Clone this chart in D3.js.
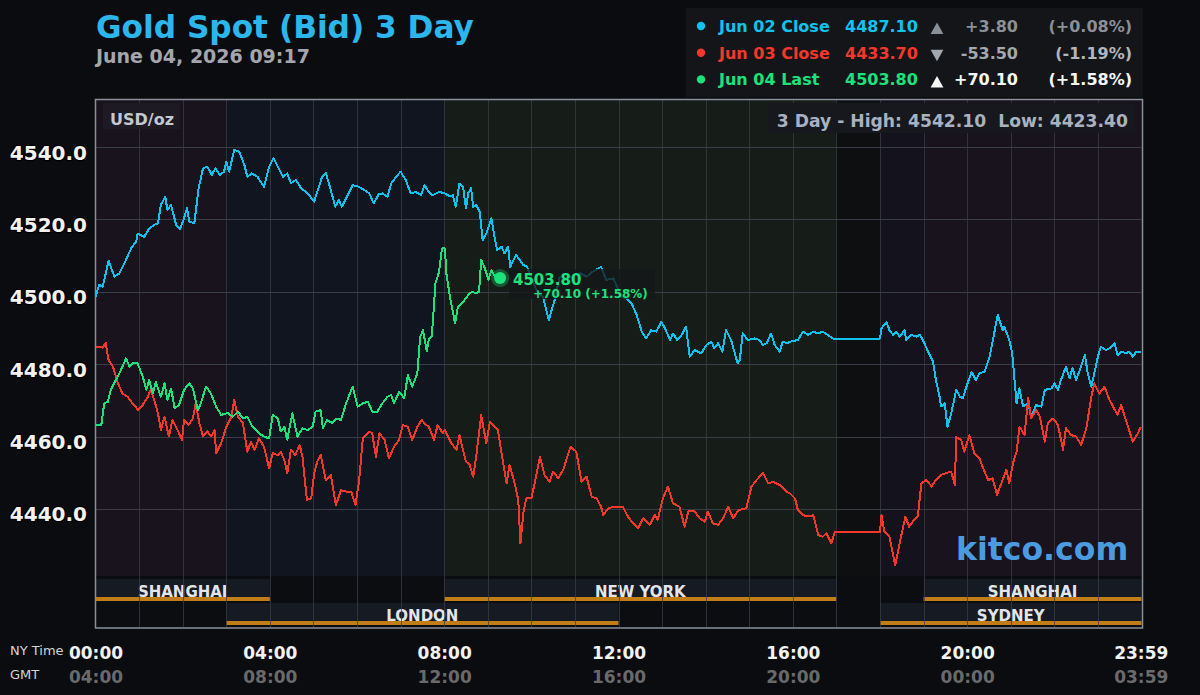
<!DOCTYPE html>
<html>
<head>
<meta charset="utf-8">
<script src="https://cdn.jsdelivr.net/npm/d3@7"></script>
<style>
  html, body { margin: 0; padding: 0; background: #0b0c0f; }
  svg { display: block; font-family: "DejaVu Sans", sans-serif; }
</style>
</head>
<body>
<svg id="chart"></svg>
<script>
const WIDTH = 1200;
const HEIGHT = 695;

// minutes after NY midnight, bid price
const jun02 = [[0,4498.6],[5,4501.9],[10,4501.4],[18,4508.6],[26,4504.2],[33,4505.1],[44,4509.7],[49,4512.0],[56,4513.9],[58,4516.1],[67,4515.2],[74,4517.5],[81,4518.5],[86,4518.9],[90,4524.0],[96,4526.3],[99,4522.6],[104,4524.0],[111,4518.5],[116,4517.3],[121,4519.8],[126,4523.1],[129,4519.4],[136,4518.9],[142,4528.6],[148,4534.1],[154,4534.6],[160,4532.3],[165,4534.1],[171,4532.3],[177,4533.2],[180,4536.0],[184,4533.2],[191,4539.2],[198,4538.7],[205,4535.0],[209,4531.8],[215,4532.7],[223,4531.8],[232,4529.0],[239,4534.6],[245,4536.9],[251,4534.6],[258,4531.8],[264,4532.7],[269,4530.0],[276,4530.9],[283,4528.6],[292,4527.2],[301,4524.9],[306,4528.1],[312,4531.8],[317,4532.9],[324,4528.1],[330,4523.5],[335,4525.4],[339,4523.5],[345,4525.8],[354,4529.5],[363,4529.0],[370,4528.1],[377,4527.2],[383,4524.4],[390,4527.0],[395,4527.2],[402,4526.3],[407,4529.9],[414,4531.8],[420,4533.2],[427,4530.9],[434,4527.2],[441,4527.6],[448,4526.7],[453,4529.5],[457,4528.1],[464,4526.7],[473,4527.6],[481,4527.2],[488,4526.3],[492,4526.7],[496,4523.5],[501,4529.9],[506,4529.0],[510,4523.0],[513,4527.2],[517,4528.6],[520,4523.5],[524,4524.0],[529,4522.1],[533,4514.3],[538,4516.1],[545,4520.3],[550,4514.3],[553,4511.5],[559,4512.5],[563,4510.6],[568,4512.5],[571,4506.9],[579,4510.2],[584,4508.8],[589,4507.4],[594,4506.9],[607,4500.5],[616,4498.6],[624,4492.2],[632,4497.7],[639,4504.2],[648,4503.3],[658,4504.5],[667,4505.1],[676,4504.2],[685,4505.6],[696,4506.9],[703,4503.3],[713,4503.7],[724,4498.6],[731,4498.2],[738,4496.8],[745,4493.6],[752,4489.0],[758,4487.1],[765,4489.4],[772,4489.0],[779,4491.7],[784,4489.9],[791,4486.7],[795,4488.5],[801,4486.7],[807,4488.1],[813,4490.4],[818,4482.1],[825,4483.9],[834,4483.0],[841,4485.3],[848,4486.2],[852,4484.4],[857,4485.8],[863,4483.5],[868,4489.4],[875,4486.7],[884,4480.2],[887,4481.2],[891,4488.5],[898,4486.7],[907,4487.1],[914,4486.7],[919,4485.3],[924,4485.8],[930,4488.5],[935,4485.3],[942,4483.5],[946,4486.2],[953,4485.8],[956,4486.2],[967,4486.7],[974,4489.0],[981,4488.1],[988,4489.0],[995,4488.5],[1001,4489.0],[1008,4488.1],[1015,4487.1],[1080,4487.1],[1082,4489.9],[1089,4491.7],[1093,4489.4],[1098,4488.1],[1102,4489.0],[1107,4487.6],[1114,4489.4],[1116,4486.7],[1123,4488.1],[1130,4487.6],[1135,4488.1],[1139,4486.7],[1146,4483.5],[1153,4480.7],[1157,4475.6],[1162,4471.0],[1164,4468.3],[1169,4469.2],[1173,4462.7],[1178,4466.4],[1185,4472.9],[1190,4471.0],[1194,4470.6],[1199,4473.8],[1206,4477.9],[1212,4475.6],[1217,4477.5],[1224,4477.9],[1231,4482.1],[1238,4489.4],[1242,4493.6],[1249,4489.4],[1251,4490.4],[1258,4486.7],[1262,4483.0],[1268,4469.2],[1272,4473.3],[1277,4468.3],[1284,4469.2],[1288,4465.5],[1295,4468.7],[1302,4468.3],[1307,4472.9],[1316,4473.3],[1320,4474.7],[1325,4472.9],[1329,4475.6],[1336,4479.3],[1341,4476.1],[1345,4478.9],[1350,4475.6],[1355,4478.4],[1362,4482.5],[1366,4477.5],[1371,4473.8],[1375,4477.5],[1380,4482.1],[1384,4484.8],[1391,4483.9],[1396,4484.4],[1403,4485.8],[1407,4482.5],[1412,4483.5],[1419,4483.0],[1423,4483.5],[1428,4482.1],[1433,4483.5],[1439,4483.5]];

const jun03 = [[0,4484.8],[10,4484.6],[14,4485.9],[18,4481.2],[24,4479.3],[31,4474.7],[37,4471.9],[44,4471.0],[51,4469.2],[59,4467.3],[65,4468.7],[72,4471.0],[76,4472.9],[81,4470.1],[86,4466.4],[90,4461.8],[95,4465.5],[101,4460.0],[106,4464.6],[113,4461.8],[119,4459.1],[122,4464.6],[128,4463.2],[134,4465.0],[138,4469.2],[143,4463.7],[148,4460.0],[154,4461.4],[159,4460.0],[164,4461.8],[166,4455.4],[173,4458.1],[180,4462.7],[187,4465.5],[191,4470.1],[196,4465.5],[203,4463.7],[209,4455.8],[214,4458.6],[219,4456.3],[225,4459.5],[232,4457.2],[239,4451.2],[244,4455.4],[251,4454.9],[255,4455.8],[260,4453.5],[264,4449.9],[269,4456.3],[275,4454.9],[281,4457.7],[285,4454.4],[291,4442.5],[297,4442.9],[301,4449.9],[306,4453.5],[310,4454.9],[317,4448.0],[324,4449.4],[331,4441.1],[338,4445.2],[345,4444.8],[352,4444.8],[358,4441.1],[363,4448.0],[368,4459.5],[377,4461.4],[381,4460.9],[386,4454.4],[391,4460.9],[398,4459.1],[404,4454.0],[411,4457.2],[418,4459.1],[423,4463.2],[430,4462.7],[436,4459.1],[443,4462.7],[449,4464.6],[455,4463.2],[459,4462.7],[466,4459.1],[471,4463.2],[478,4460.9],[481,4461.8],[490,4458.1],[497,4456.3],[501,4460.4],[506,4456.3],[510,4453.1],[515,4452.2],[520,4448.9],[524,4454.4],[531,4465.9],[538,4458.1],[543,4464.1],[550,4462.7],[554,4461.8],[559,4455.4],[566,4447.1],[570,4452.2],[577,4447.1],[582,4442.5],[585,4430.5],[589,4438.8],[593,4442.9],[600,4442.9],[605,4447.5],[612,4454.4],[618,4449.4],[625,4447.5],[630,4450.3],[637,4448.5],[644,4450.8],[648,4453.5],[654,4457.2],[662,4455.8],[669,4447.5],[676,4448.9],[683,4443.4],[690,4442.9],[696,4440.6],[699,4438.3],[706,4440.2],[713,4440.6],[726,4440.6],[733,4437.9],[740,4436.0],[747,4434.6],[754,4437.4],[763,4435.6],[770,4438.3],[774,4437.0],[781,4442.9],[788,4446.2],[795,4441.6],[804,4440.6],[811,4435.1],[816,4439.3],[825,4439.3],[832,4437.4],[839,4436.5],[843,4439.3],[850,4436.0],[857,4435.6],[864,4437.4],[871,4440.6],[878,4437.4],[885,4439.7],[896,4440.2],[903,4446.2],[910,4448.0],[919,4449.9],[926,4447.1],[933,4447.5],[942,4446.6],[951,4444.8],[956,4444.3],[963,4442.9],[967,4439.7],[974,4438.3],[981,4437.9],[988,4438.3],[995,4432.8],[1001,4432.3],[1006,4433.3],[1013,4430.5],[1018,4433.7],[1080,4433.7],[1082,4438.3],[1086,4433.7],[1093,4432.3],[1101,4424.5],[1107,4430.5],[1115,4437.9],[1120,4435.1],[1125,4436.5],[1132,4437.9],[1137,4447.1],[1144,4448.0],[1151,4446.2],[1157,4448.0],[1164,4449.4],[1171,4449.9],[1178,4450.3],[1183,4446.6],[1185,4459.9],[1192,4459.0],[1196,4455.8],[1203,4460.4],[1210,4455.4],[1217,4454.0],[1222,4451.2],[1229,4448.0],[1235,4448.5],[1241,4443.9],[1247,4447.1],[1254,4450.8],[1258,4447.1],[1263,4452.6],[1268,4455.8],[1272,4462.7],[1279,4460.4],[1284,4470.6],[1288,4465.0],[1295,4467.3],[1300,4465.5],[1307,4458.6],[1311,4463.7],[1318,4465.0],[1325,4463.2],[1332,4456.3],[1336,4462.3],[1343,4460.4],[1350,4460.0],[1357,4457.7],[1364,4462.3],[1371,4471.0],[1375,4474.7],[1382,4471.9],[1389,4473.8],[1396,4470.1],[1407,4466.0],[1412,4468.7],[1417,4465.5],[1428,4458.6],[1435,4460.9],[1439,4462.7]];

const jun04 = [[0,4463.2],[8,4463.2],[12,4469.2],[17,4469.6],[21,4472.9],[28,4475.6],[35,4478.4],[42,4481.6],[47,4479.3],[51,4480.2],[58,4480.2],[65,4476.6],[70,4472.9],[74,4475.6],[79,4471.9],[83,4475.2],[90,4471.0],[95,4474.7],[99,4470.1],[104,4473.3],[109,4467.8],[115,4468.7],[122,4472.9],[129,4474.7],[134,4473.3],[141,4467.3],[145,4469.2],[152,4473.8],[159,4471.9],[166,4468.3],[173,4466.0],[182,4466.5],[189,4465.5],[196,4466.9],[203,4465.0],[209,4465.5],[216,4462.7],[225,4460.9],[232,4460.0],[239,4459.5],[244,4466.0],[251,4465.0],[255,4461.4],[260,4462.7],[264,4459.1],[271,4466.4],[278,4460.0],[285,4462.3],[292,4461.8],[299,4462.7],[303,4466.9],[310,4467.3],[313,4462.3],[319,4464.6],[326,4463.7],[331,4465.0],[338,4464.6],[345,4469.2],[354,4473.8],[361,4468.3],[368,4469.2],[375,4469.6],[381,4466.9],[388,4466.9],[395,4469.2],[402,4471.0],[407,4471.5],[411,4469.2],[418,4472.4],[425,4470.6],[430,4477.0],[436,4473.8],[443,4477.4],[447,4487.6],[451,4489.4],[456,4483.5],[459,4487.1],[463,4487.6],[468,4502.3],[473,4505.6],[477,4512.0],[481,4512.0],[483,4505.1],[488,4498.6],[495,4491.3],[499,4495.9],[504,4496.8],[508,4497.7],[513,4499.1],[518,4500.0],[524,4499.6],[528,4500.0],[531,4508.8],[536,4506.5],[541,4503.3],[545,4506.0],[550,4504.2],[557,4503.8]];

const priceTicks = [4440, 4460, 4480, 4500, 4520, 4540];
const timeTicks = [0, 240, 480, 720, 960, 1200, 1439];
const nyLabels = ["00:00", "04:00", "08:00", "12:00", "16:00", "20:00", "23:59"];
const gmtLabels = ["04:00", "08:00", "12:00", "16:00", "20:00", "00:00", "03:59"];

const bands = [[0, 180, "asia"], [180, 480, "london"], [480, 1020, "ny"], [1020, 1080, "closed"], [1080, 1140, "sydney"], [1140, 1440, "asia"]];
const sessions = [
  { name: "SHANGHAI", row: 0, start: 0, end: 240 },
  { name: "NEW YORK", row: 0, start: 480, end: 1020 },
  { name: "SHANGHAI", row: 0, start: 1140, end: 1440 },
  { name: "LONDON", row: 1, start: 180, end: 720 },
  { name: "SYDNEY", row: 1, start: 1080, end: 1440 }
];

const legendRows = [
  { label: "Jun 02 Close", value: "4487.10", up: true, chg: "+3.80", pct: "(+0.08%)" },
  { label: "Jun 03 Close", value: "4433.70", up: false, chg: "-53.50", pct: "(-1.19%)" },
  { label: "Jun 04 Last", value: "4503.80", up: true, chg: "+70.10", pct: "(+1.58%)" }
];

const lastPrice = 4503.80;
const lastChange = "+70.10 (+1.58%)";
const dayHigh = 4542.10;
const dayLow = 4423.40;

// styles
const lineColors = ["#10c3ee", "#f2382b", "#1ce27c"];
const bandColors = { asia: "#19131e", london: "#10151f", ny: "#161c17", closed: "#0e0f10", sydney: "#14131d" };
const changeColors = [["#8b8f97", "#8b8f97"], ["#a3a7ae", "#b3b6bd"], ["#f6f6f6", "#f6f6f6"]];

const L = 95.5, R = 1141.5, T = 100, B = 576;

const x = d3.scaleLinear().domain([0, 1440]).range([L, R]);
const y = d3.scaleLinear().domain([4421.2, 4553.0]).range([B + 1, T]);

const svg = d3.select("#chart").attr("width", WIDTH).attr("height", HEIGHT);
svg.append("rect").attr("width", WIDTH).attr("height", HEIGHT).attr("fill", "#0b0c0f");

// title
svg.append("text").attr("x", 96).attr("y", 38)
  .attr("font-size", 31.2).attr("font-weight", "bold").attr("fill", "#2bb6ec")
  .text("Gold Spot (Bid) 3 Day");
svg.append("text").attr("x", 96).attr("y", 63)
  .attr("font-size", 19).attr("font-weight", "bold").attr("fill", "#a5a6ad")
  .text("June 04, 2026 09:17");

// legend
const lg = svg.append("g");
lg.append("rect").attr("x", 686).attr("y", 8).attr("width", 457).attr("height", 89).attr("fill", "#141518");
legendRows.forEach((r, i) => {
  const by = 32 + i * 26.7;
  lg.append("circle").attr("cx", 701).attr("cy", by - 6).attr("r", 4.2).attr("fill", lineColors[i]);
  lg.append("text").attr("x", 719).attr("y", by).attr("font-size", 16).attr("font-weight", "bold")
    .attr("fill", lineColors[i]).text(r.label);
  lg.append("text").attr("x", 845).attr("y", by).attr("font-size", 16).attr("font-weight", "bold")
    .attr("fill", lineColors[i]).text(r.value);
  const tri = r.up
    ? `M930.6,${by + 2}L943.4,${by + 2}L937,${by - 9.5}Z`
    : `M930.6,${by - 9}L943.4,${by - 9}L937,${by + 2.5}Z`;
  lg.append("path").attr("d", tri).attr("fill", changeColors[i][0]);
  lg.append("text").attr("x", 1018).attr("y", by).attr("text-anchor", "end").attr("font-size", 16)
    .attr("font-weight", "bold").attr("fill", changeColors[i][0]).text(r.chg);
  lg.append("text").attr("x", 1132).attr("y", by).attr("text-anchor", "end").attr("font-size", 16)
    .attr("font-weight", "bold").attr("fill", changeColors[i][1]).text(r.pct);
});

// session backgrounds in price area
svg.append("g").selectAll("rect").data(bands).enter().append("rect")
  .attr("x", d => x(d[0])).attr("width", d => x(d[1]) - x(d[0]))
  .attr("y", T).attr("height", B - T)
  .attr("fill", d => bandColors[d[2]]);

// session rows
const rowTop = [579, 603];
svg.append("rect").attr("x", L).attr("y", 577).attr("width", R - L).attr("height", 51).attr("fill", "#0c0d10");
const sg = svg.append("g");
sg.selectAll("rect.bar").data(sessions).enter().append("rect")
  .attr("x", d => x(d.start)).attr("width", d => x(d.end) - x(d.start))
  .attr("y", d => rowTop[d.row]).attr("height", 22).attr("fill", "#161a22");

// grid
const grid = svg.append("g").attr("stroke", "#3a3d47").attr("stroke-width", 1);
grid.selectAll("line.h").data(priceTicks).enter().append("line")
  .attr("x1", L).attr("x2", R).attr("y1", d => Math.round(y(d)) + 0.5).attr("y2", d => Math.round(y(d)) + 0.5);
grid.selectAll("line.v").data(d3.range(1, 24)).enter().append("line")
  .attr("x1", d => Math.round(x(d * 60)) + 0.5).attr("x2", d => Math.round(x(d * 60)) + 0.5)
  .attr("y1", T).attr("y2", 627).attr("stroke-opacity", 0.75);

sg.selectAll("rect.line").data(sessions).enter().append("rect")
  .attr("x", d => x(d.start)).attr("width", d => x(d.end) - x(d.start))
  .attr("y", d => rowTop[d.row] + 18).attr("height", 4).attr("fill", "#c27d17");
sg.selectAll("text").data(sessions).enter().append("text")
  .attr("x", d => (x(d.start) + x(d.end)) / 2).attr("y", d => rowTop[d.row] + 17.5)
  .attr("text-anchor", "middle").attr("font-size", 15).attr("font-weight", "bold")
  .attr("fill", "#e3e5ea").text(d => d.name);

// frame
svg.append("rect").attr("x", L).attr("y", 99.5).attr("width", R - L + 1).attr("height", 528.5)
  .attr("fill", "none").attr("stroke", "#8a909b").attr("stroke-width", 1.5);

// y labels
const yAxis = d3.axisLeft(y).tickValues(priceTicks).tickSize(0).tickFormat(d3.format(".1f"));
svg.append("g").attr("transform", "translate(87,0)").call(yAxis)
  .call(g => g.select(".domain").remove())
  .selectAll("text").attr("x", 0).attr("dy", 12).attr("text-anchor", "end")
  .attr("font-family", "DejaVu Sans").attr("font-size", 20).attr("font-weight", "bold")
  .attr("fill", "#f2f2f2").attr("stroke", "#000").attr("stroke-width", 2.5).attr("paint-order", "stroke");

// x labels
const xNY = d3.axisBottom(x).tickValues(timeTicks).tickSize(0).tickFormat((d, i) => nyLabels[i]);
svg.append("g").attr("transform", "translate(0,659)").call(xNY)
  .call(g => g.select(".domain").remove())
  .selectAll("text").attr("y", 0).attr("dy", 0)
  .attr("font-family", "DejaVu Sans").attr("font-size", 17).attr("font-weight", "bold").attr("fill", "#f2f2f2");
const xGMT = d3.axisBottom(x).tickValues(timeTicks).tickSize(0).tickFormat((d, i) => gmtLabels[i]);
svg.append("g").attr("transform", "translate(0,683)").call(xGMT)
  .call(g => g.select(".domain").remove())
  .selectAll("text").attr("y", 0).attr("dy", 0)
  .attr("font-family", "DejaVu Sans").attr("font-size", 17).attr("font-weight", "bold").attr("fill", "#6a6a6c");
svg.append("text").attr("x", 10).attr("y", 655).attr("font-size", 13).attr("fill", "#d4d4d4").text("NY Time");
svg.append("text").attr("x", 10).attr("y", 679).attr("font-size", 13).attr("fill", "#d4d4d4").text("GMT");

// corner labels
svg.append("rect").attr("x", 103).attr("y", 103).attr("width", 77).attr("height", 26).attr("fill", "#1e1a23");
svg.append("text").attr("x", 110).attr("y", 125).attr("font-size", 16).attr("font-weight", "bold")
  .attr("fill", "#c5c8d0").text("USD/oz");
svg.append("rect").attr("x", 768).attr("y", 103).attr("width", 367).attr("height", 30).attr("fill", "#17181d");
svg.append("text").attr("x", 1128).attr("y", 126.5).attr("text-anchor", "end").attr("font-size", 17.2)
  .attr("font-weight", "bold").attr("fill", "#a9b1c1")
  .text(`3 Day - High: ${dayHigh.toFixed(2)}  Low: ${dayLow.toFixed(2)}`).attr("xml:space", "preserve");

svg.append("text").attr("x", 956).attr("y", 560).attr("font-size", 31.5).attr("font-weight", "bold")
  .attr("fill", "#4a9be0").text("kitco.com");

// lines
svg.append("clipPath").attr("id", "plotClip").append("rect")
  .attr("x", L).attr("y", T).attr("width", R - L).attr("height", B - T);
const line = d3.line().x(d => x(d[0])).y(d => y(d[1]));
svg.append("g").attr("clip-path", "url(#plotClip)")
  .selectAll("path").data([jun02, jun03, jun04]).enter().append("path")
  .attr("d", line).attr("fill", "none")
  .attr("stroke", (d, i) => lineColors[i]).attr("stroke-width", 2).attr("stroke-linejoin", "round")
  .attr("shape-rendering", "crispEdges");

// last price marker
const last = jun04[jun04.length - 1];
svg.append("rect").attr("x", 509).attr("y", 269).attr("width", 146).attr("height", 30)
  .attr("fill", "#151718").attr("fill-opacity", 0.78);
svg.append("text").attr("x", 513).attr("y", 285).attr("font-size", 15).attr("font-weight", "bold")
  .attr("fill", lineColors[2]).text(lastPrice.toFixed(2));
svg.append("text").attr("x", 533).attr("y", 297.5).attr("font-size", 12).attr("font-weight", "bold")
  .attr("fill", lineColors[2]).text(lastChange);
svg.append("circle").attr("cx", x(last[0])).attr("cy", y(last[1])).attr("r", 9)
  .attr("fill", lineColors[2]).attr("fill-opacity", 0.3);
svg.append("circle").attr("cx", x(last[0])).attr("cy", y(last[1])).attr("r", 6)
  .attr("fill", lineColors[2]);
</script>
</body>
</html>
